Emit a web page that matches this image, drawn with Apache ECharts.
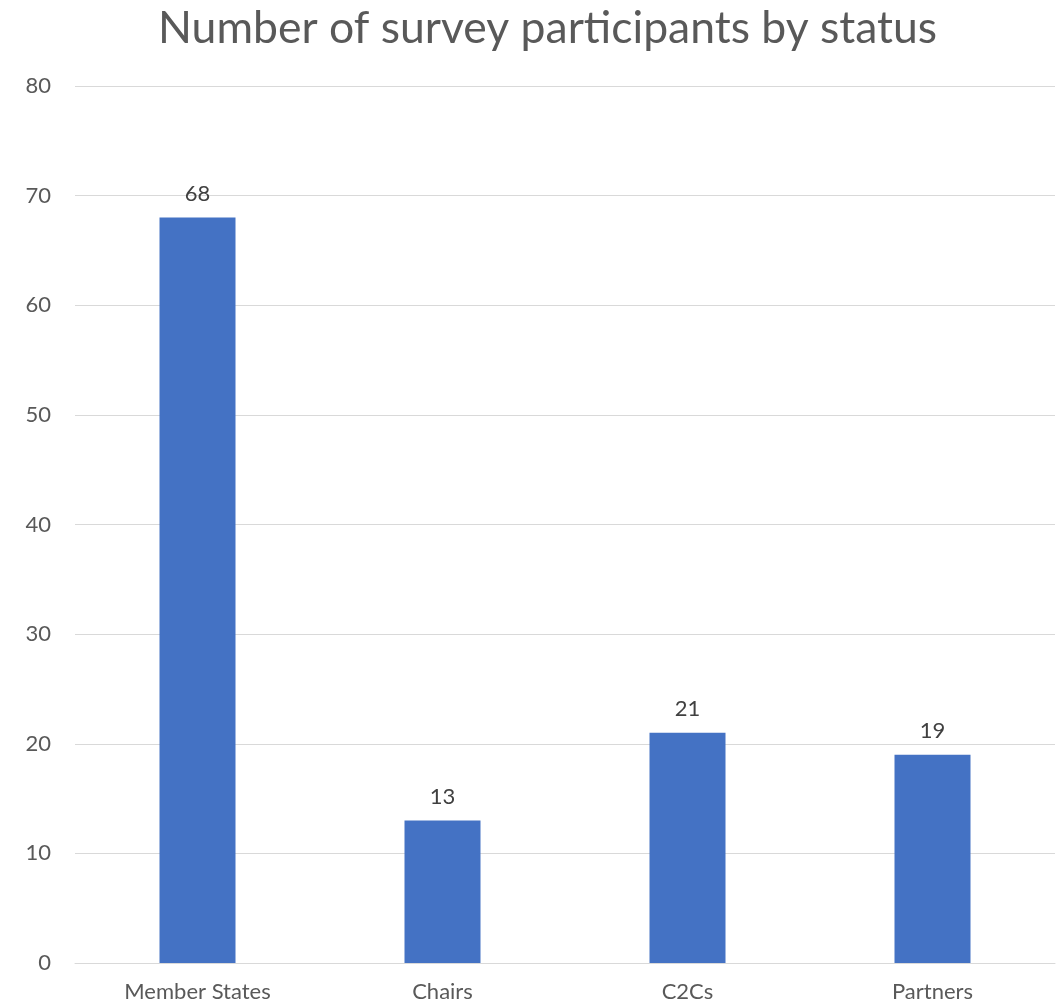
<!DOCTYPE html>
<html>
<head>
<meta charset="utf-8">
<script src="https://cdn.jsdelivr.net/npm/echarts@6/dist/echarts.min.js"></script>
<style>
html,body{margin:0;padding:0;background:#fff;}
#chart{width:1064px;height:1004px;}
</style>
</head>
<body>
<div id="chart"></div>
<script>
const titleText = "Number of survey participants by status";
const categories = ["Member States", "Chairs", "C2Cs", "Partners"];
const participants = [68, 13, 21, 19];
const yTicks = {min: 0, max: 80, interval: 10};

const FONT = 'Lato, Calibri, sans-serif';
const chart = echarts.init(document.getElementById('chart'));
chart.setOption({
  animation: false,
  backgroundColor: '#ffffff',
  title: {
    text: titleText,
    left: 153,
    top: 1,
    textStyle: {
      fontFamily: FONT,
      fontSize: 44.5,
      fontWeight: 'normal',
      color: '#595959'
    }
  },
  grid: {left: 75, right: 9, top: 86, bottom: 41, containLabel: false},
  xAxis: {
    type: 'category',
    data: categories,
    axisLine: {lineStyle: {color: '#d9d9d9', width: 1}},
    axisTick: {show: false},
    axisLabel: {
      fontFamily: FONT,
      fontSize: 22,
      color: '#595959',
      margin: 18
    }
  },
  yAxis: {
    type: 'value',
    min: yTicks.min,
    max: yTicks.max,
    interval: yTicks.interval,
    axisLine: {show: false},
    axisTick: {show: false},
    splitLine: {lineStyle: {color: '#d9d9d9', width: 1}},
    axisLabel: {
      fontFamily: FONT,
      fontSize: 22,
      color: '#595959',
      margin: 24
    }
  },
  series: [{
    type: 'bar',
    data: participants,
    barWidth: 76,
    itemStyle: {color: '#4472C4'},
    label: {
      show: true,
      position: 'top',
      distance: 13,
      fontFamily: FONT,
      fontSize: 22,
      color: '#404040'
    }
  }]
});
</script>
</body>
</html>
